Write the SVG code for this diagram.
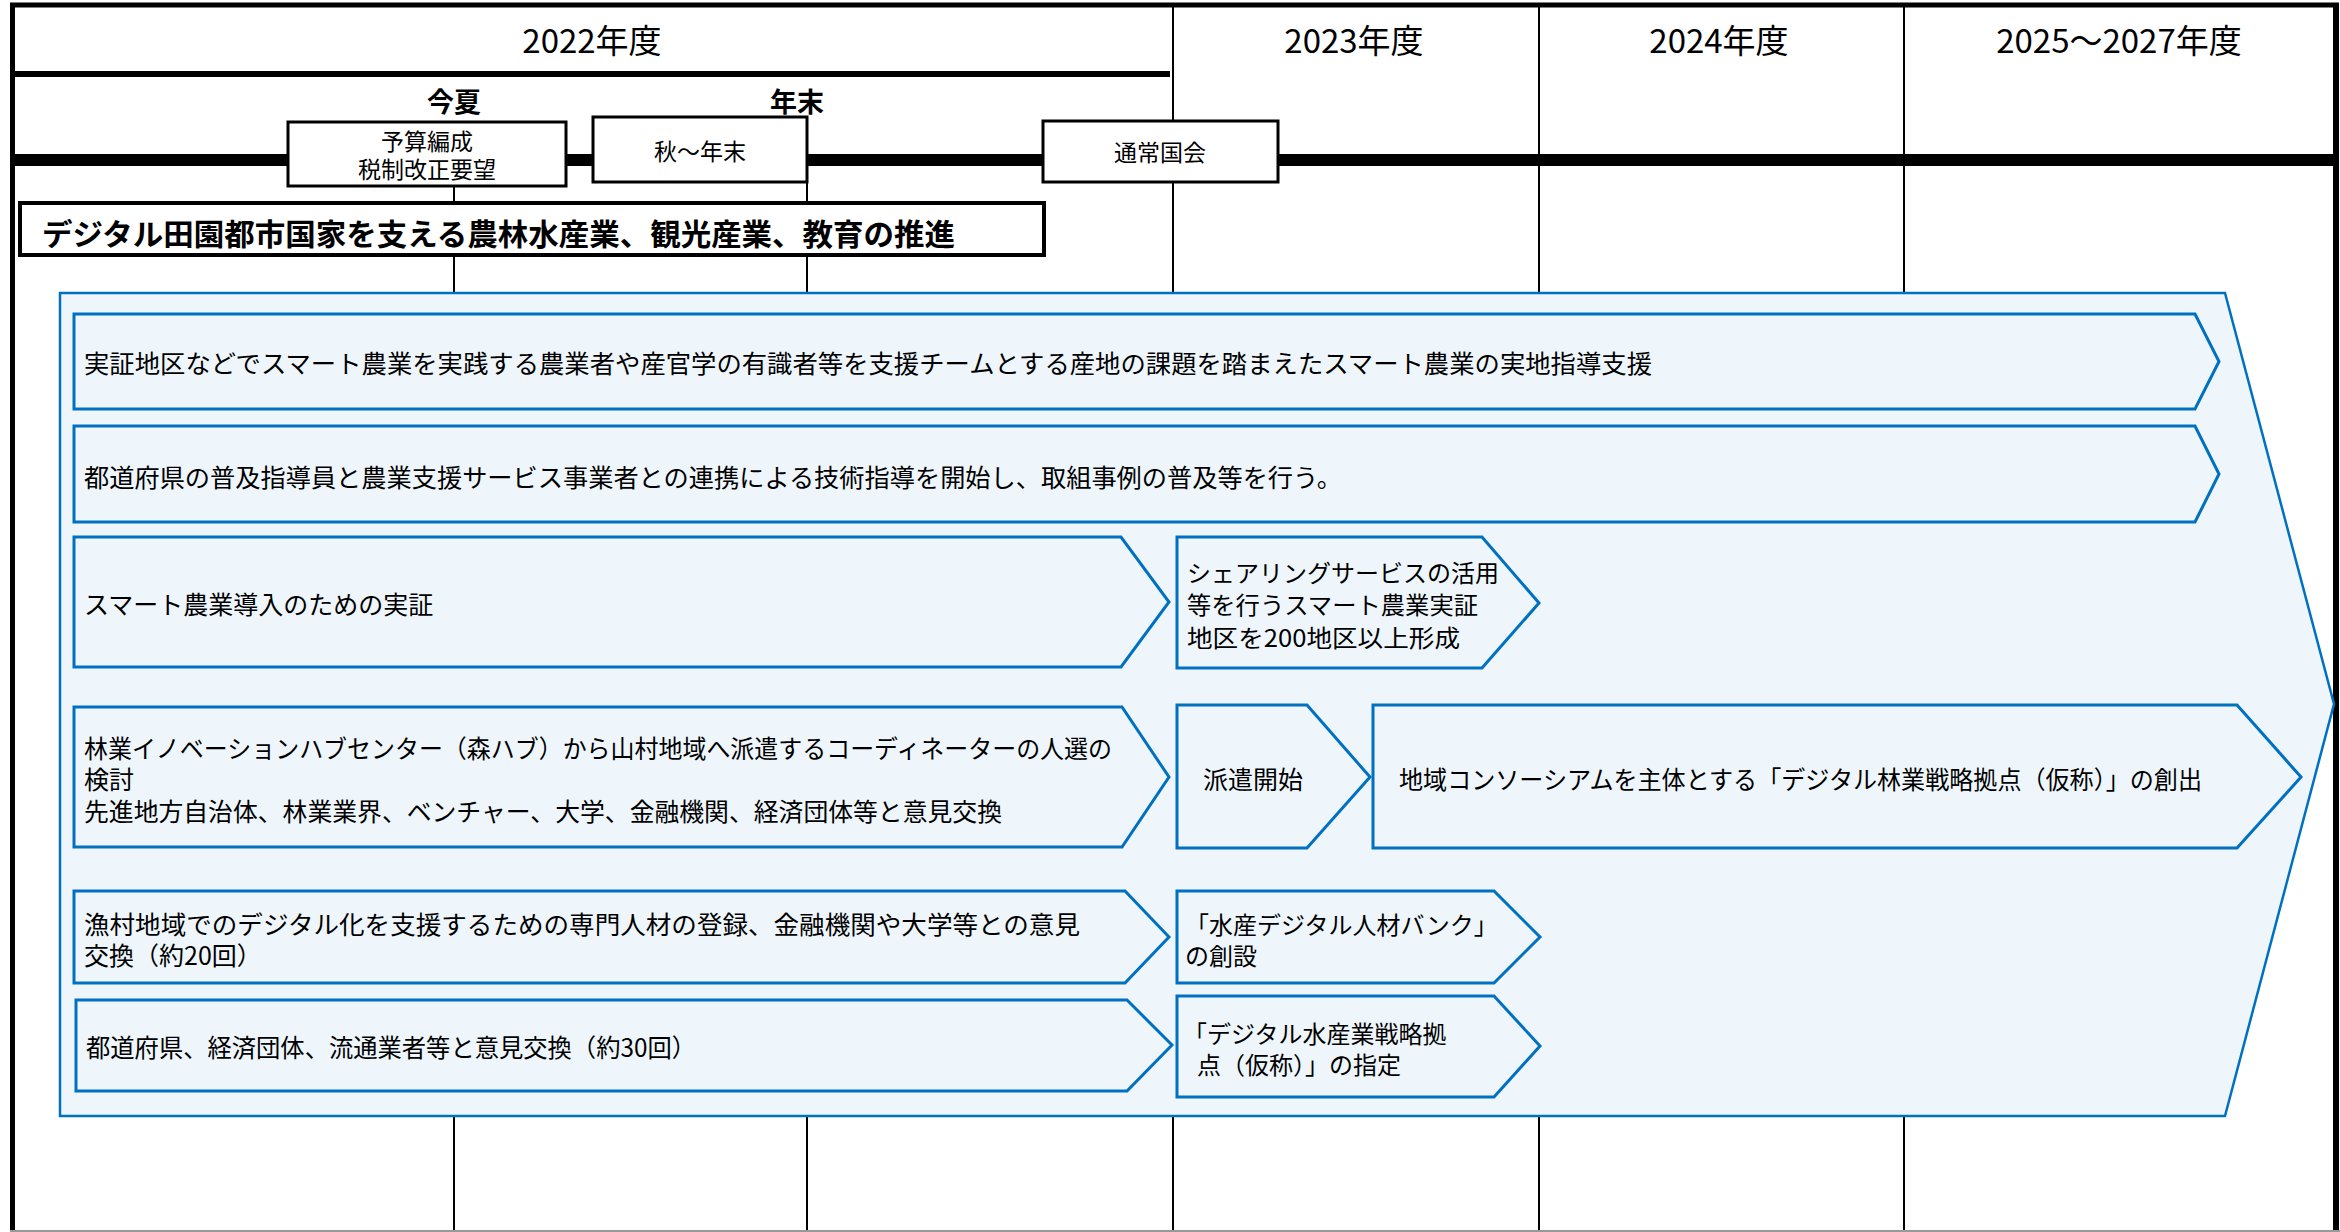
<svg xmlns="http://www.w3.org/2000/svg" width="2340" height="1232" viewBox="0 0 2340 1232">
<style>
text{font-family:"Noto Sans CJK JP","Noto Sans",sans-serif;fill:#000}
.hdr{font-size:33px;text-anchor:middle}
.bold{font-size:27px;font-weight:700;text-anchor:middle}
.small{font-size:23px;text-anchor:middle}
.title{font-size:30px;font-weight:700}
.body{font-size:25px}
.mid{font-size:24px}
.blk{fill:#fff;stroke:#000;stroke-width:3}
.arrow{fill:#EEF6FC;stroke:#0070C0;stroke-width:3;stroke-linejoin:miter}
.big{fill:#EEF6FC;stroke:#0070C0;stroke-width:2.5}
.g{stroke:#000;fill:none}
</style>
<rect x="0" y="0" width="2340" height="1232" fill="#fff"/>
<g id="grid">
<line class="g" x1="454" y1="160" x2="454" y2="1232" stroke-width="2"/>
<line class="g" x1="807" y1="160" x2="807" y2="1232" stroke-width="2"/>
<line class="g" x1="1173" y1="5" x2="1173" y2="1232" stroke-width="2"/>
<line class="g" x1="1539" y1="5" x2="1539" y2="1232" stroke-width="2"/>
<line class="g" x1="1904" y1="5" x2="1904" y2="1232" stroke-width="2"/>
<line class="g" x1="12" y1="74" x2="1170" y2="74" stroke-width="6"/>
<line class="g" x1="12" y1="160" x2="2336" y2="160" stroke-width="12"/>
<line class="g" x1="10" y1="5" x2="2339" y2="5" stroke-width="5"/>
<line class="g" x1="12.5" y1="3" x2="12.5" y2="1232" stroke-width="5"/>
<line class="g" x1="2336" y1="3" x2="2336" y2="1232" stroke-width="6"/>
<line x1="10" y1="1231" x2="2340" y2="1231" stroke="#999" stroke-width="2"/>
</g>
<g id="headers">
<text class="hdr" x="592" y="53">2022年度</text>
<text class="hdr" x="1354" y="53">2023年度</text>
<text class="hdr" x="1719" y="53">2024年度</text>
<text class="hdr" x="2119" y="53">2025～2027年度</text>
<text class="bold" x="454" y="112">今夏</text>
<text class="bold" x="797" y="112">年末</text>
</g>
<g id="node-budget">
<rect class="blk" x="288" y="122" width="278" height="64"/>
<text class="small" x="427" y="150">予算編成</text>
<text class="small" x="427" y="178">税制改正要望</text>
</g>
<g id="node-autumn">
<rect class="blk" x="593" y="117" width="214" height="65"/>
<text class="small" x="700" y="160">秋～年末</text>
</g>
<g id="node-diet">
<rect class="blk" x="1043" y="121" width="235" height="61"/>
<text class="small" x="1160" y="161">通常国会</text>
</g>
<g id="node-title">
<rect x="20" y="203" width="1024" height="52" fill="#fff" stroke="#000" stroke-width="4"/>
<text class="title" x="42" y="245" textLength="913" lengthAdjust="spacingAndGlyphs">デジタル田園都市国家を支える農林水産業、観光産業、教育の推進</text>
</g>
<g id="node-big">
<path class="big" d="M60,293 L2225,293 L2334,704 L2225,1116 L60,1116 Z"/>
</g>
<g id="node-row1">
<path class="arrow" d="M74,314 L2195,314 L2219,361.5 L2195,409 L74,409 Z"/>
<text class="body" x="84" y="373" textLength="1568" lengthAdjust="spacingAndGlyphs">実証地区などでスマート農業を実践する農業者や産官学の有識者等を支援チームとする産地の課題を踏まえたスマート農業の実地指導支援</text>
</g>
<g id="node-row2">
<path class="arrow" d="M74,426 L2195,426 L2219,474 L2195,522 L74,522 Z"/>
<text class="body" x="84" y="487" textLength="1258" lengthAdjust="spacingAndGlyphs">都道府県の普及指導員と農業支援サービス事業者との連携による技術指導を開始し、取組事例の普及等を行う。</text>
</g>
<g id="node-row3a">
<path class="arrow" d="M74,537 L1121,537 L1169,602 L1121,667 L74,667 Z"/>
<text class="body" x="84" y="614">スマート農業導入のための実証</text>
</g>
<g id="node-row3b">
<path class="arrow" d="M1177,537 L1482,537 L1539,603 L1482,668 L1177,668 Z"/>
<text class="mid" x="1187" y="582" textLength="312" lengthAdjust="spacingAndGlyphs">シェアリングサービスの活用</text>
<text class="mid" x="1187" y="614" textLength="291" lengthAdjust="spacingAndGlyphs">等を行うスマート農業実証</text>
<text class="mid" x="1187" y="647" textLength="273" lengthAdjust="spacingAndGlyphs">地区を200地区以上形成</text>
</g>
<g id="node-row4a">
<path class="arrow" d="M74,707 L1122,707 L1169,777 L1122,847 L74,847 Z"/>
<text class="body" x="84" y="758" textLength="1028" lengthAdjust="spacingAndGlyphs">林業イノベーションハブセンター（森ハブ）から山村地域へ派遣するコーディネーターの人選の</text>
<text class="body" x="84" y="789">検討</text>
<text class="body" x="84" y="821" textLength="918" lengthAdjust="spacingAndGlyphs">先進地方自治体、林業業界、ベンチャー、大学、金融機関、経済団体等と意見交換</text>
</g>
<g id="node-row4b">
<path class="arrow" d="M1177,705 L1307,705 L1370,777 L1307,848 L1177,848 Z"/>
<text class="body" x="1203" y="789">派遣開始</text>
</g>
<g id="node-row4c">
<path class="arrow" d="M1373,705 L2237,705 L2301,777 L2237,848 L1373,848 Z"/>
<text class="body" x="1399" y="789" textLength="803" lengthAdjust="spacingAndGlyphs">地域コンソーシアムを主体とする「デジタル林業戦略拠点（仮称）」の創出</text>
</g>
<g id="node-row5a">
<path class="arrow" d="M74,891 L1125,891 L1169,937 L1125,983 L74,983 Z"/>
<text class="body" x="84" y="934" textLength="996" lengthAdjust="spacingAndGlyphs">漁村地域でのデジタル化を支援するための専門人材の登録、金融機関や大学等との意見</text>
<text class="body" x="84" y="965">交換（約20回）</text>
</g>
<g id="node-row5b">
<path class="arrow" d="M1177,891 L1494,891 L1540,937 L1494,983 L1177,983 Z"/>
<text class="mid" x="1185" y="934">「水産デジタル人材バンク」</text>
<text class="mid" x="1185" y="965">の創設</text>
</g>
<g id="node-row6a">
<path class="arrow" d="M76,1000 L1127,1000 L1172,1045 L1127,1091 L76,1091 Z"/>
<text class="body" x="86" y="1057" textLength="610" lengthAdjust="spacingAndGlyphs">都道府県、経済団体、流通業者等と意見交換（約30回）</text>
</g>
<g id="node-row6b">
<path class="arrow" d="M1177,996 L1494,996 L1540,1046 L1494,1097 L1177,1097 Z"/>
<text class="mid" x="1183" y="1043">「デジタル水産業戦略拠</text>
<text class="mid" x="1197" y="1074">点（仮称）」の指定</text>
</g>
<g id="connectors"></g>
</svg>
